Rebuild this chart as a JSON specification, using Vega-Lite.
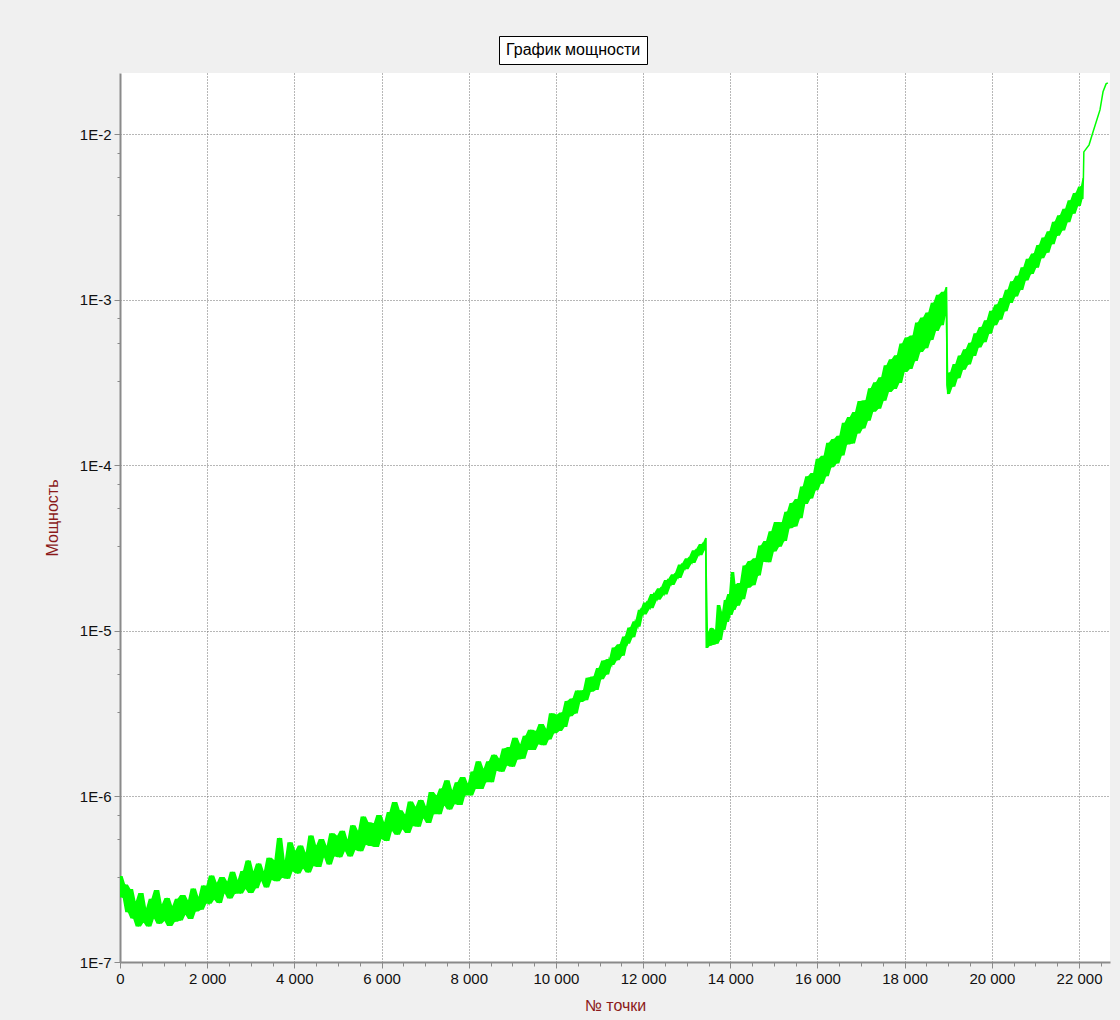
{
"$schema": "https://vega.github.io/schema/vega-lite/v6.json",
"width": 990, "height": 889,
"autosize": {"type": "none"},
"padding": {"left": 120, "top": 73, "right": 10, "bottom": 58},
"background": "#f0f0f0",
"view": {"fill": "white", "stroke": null},
"config": {"font": "Liberation Sans"},
"data": {"values": [
{"x":0,"y":3.31e-7},{"x":60,"y":2.45e-7},{"x":120,"y":2.94e-7},{"x":180,"y":2.0e-7},{"x":240,"y":2.76e-7},{"x":300,"y":1.83e-7},{"x":360,"y":2.32e-7},{"x":420,"y":1.64e-7},{"x":480,"y":2.61e-7},{"x":540,"y":1.73e-7},{"x":600,"y":2.12e-7},{"x":660,"y":1.64e-7},{"x":720,"y":2.41e-7},{"x":780,"y":1.83e-7},{"x":840,"y":2.72e-7},{"x":900,"y":1.70e-7},{"x":960,"y":2.23e-7},{"x":1020,"y":1.77e-7},{"x":1080,"y":2.44e-7},{"x":1140,"y":1.65e-7},{"x":1200,"y":2.18e-7},{"x":1260,"y":1.75e-7},{"x":1320,"y":2.41e-7},{"x":1380,"y":1.78e-7},{"x":1440,"y":2.54e-7},{"x":1500,"y":1.93e-7},{"x":1560,"y":2.36e-7},{"x":1620,"y":1.82e-7},{"x":1680,"y":2.78e-7},{"x":1740,"y":2.02e-7},{"x":1800,"y":2.47e-7},{"x":1860,"y":2.07e-7},{"x":1920,"y":2.90e-7},{"x":1980,"y":2.37e-7},
{"x":2040,"y":2.25e-7},{"x":2100,"y":3.33e-7},{"x":2160,"y":2.38e-7},{"x":2220,"y":3.01e-7},{"x":2280,"y":2.27e-7},{"x":2340,"y":3.26e-7},{"x":2400,"y":2.60e-7},{"x":2460,"y":3.06e-7},{"x":2520,"y":2.42e-7},{"x":2580,"y":3.51e-7},{"x":2640,"y":2.58e-7},{"x":2700,"y":3.13e-7},{"x":2760,"y":2.59e-7},{"x":2820,"y":3.55e-7},{"x":2880,"y":2.76e-7},{"x":2940,"y":4.11e-7},{"x":3000,"y":2.61e-7},{"x":3060,"y":3.54e-7},{"x":3120,"y":2.79e-7},{"x":3180,"y":3.94e-7},{"x":3240,"y":3.09e-7},{"x":3300,"y":3.53e-7},{"x":3360,"y":2.82e-7},{"x":3420,"y":4.26e-7},{"x":3480,"y":3.13e-7},{"x":3540,"y":4.12e-7},{"x":3600,"y":3.08e-7},{"x":3660,"y":5.62e-7},{"x":3720,"y":3.23e-7},{"x":3780,"y":4.10e-7},{"x":3840,"y":3.18e-7},{"x":3900,"y":5.29e-7},{"x":3960,"y":3.54e-7},
{"x":4020,"y":4.70e-7},{"x":4080,"y":3.42e-7},{"x":4140,"y":5.05e-7},{"x":4200,"y":3.67e-7},{"x":4260,"y":4.57e-7},{"x":4320,"y":3.47e-7},{"x":4380,"y":5.81e-7},{"x":4440,"y":3.80e-7},{"x":4500,"y":5.06e-7},{"x":4560,"y":3.75e-7},{"x":4620,"y":5.53e-7},{"x":4680,"y":4.29e-7},{"x":4740,"y":5.03e-7},{"x":4800,"y":3.88e-7},{"x":4860,"y":5.99e-7},{"x":4920,"y":4.35e-7},{"x":4980,"y":5.79e-7},{"x":5040,"y":4.29e-7},{"x":5100,"y":6.20e-7},{"x":5160,"y":4.68e-7},{"x":5220,"y":5.50e-7},{"x":5280,"y":4.34e-7},{"x":5340,"y":6.71e-7},{"x":5400,"y":4.75e-7},{"x":5460,"y":6.20e-7},{"x":5520,"y":4.67e-7},{"x":5580,"y":7.57e-7},{"x":5640,"y":5.11e-7},{"x":5700,"y":6.99e-7},{"x":5760,"y":5.03e-7},{"x":5820,"y":6.89e-7},{"x":5880,"y":4.95e-7},{"x":5940,"y":7.73e-7},
{"x":6000,"y":5.55e-7},{"x":6060,"y":6.99e-7},{"x":6120,"y":5.38e-7},{"x":6180,"y":8.06e-7},{"x":6240,"y":6.19e-7},{"x":6300,"y":9.25e-7},{"x":6360,"y":5.87e-7},{"x":6420,"y":8.26e-7},{"x":6480,"y":6.34e-7},{"x":6540,"y":7.79e-7},{"x":6600,"y":6.02e-7},{"x":6660,"y":9.33e-7},{"x":6720,"y":6.63e-7},{"x":6780,"y":8.67e-7},{"x":6840,"y":6.57e-7},{"x":6900,"y":9.53e-7},{"x":6960,"y":7.39e-7},{"x":7020,"y":8.69e-7},{"x":7080,"y":6.92e-7},{"x":7140,"y":1.063e-6},{"x":7200,"y":7.81e-7},{"x":7260,"y":1.015e-6},{"x":7320,"y":7.82e-7},{"x":7380,"y":1.118e-6},{"x":7440,"y":8.81e-7},{"x":7500,"y":1.253e-6},{"x":7560,"y":8.33e-7},{"x":7620,"y":1.090e-6},{"x":7680,"y":9.0e-7},{"x":7740,"y":1.22e-6},{"x":7800,"y":8.88e-7},{"x":7860,"y":1.31e-6},{"x":7920,"y":1.015e-6},{"x":7980,"y":1.196e-6},
{"x":8040,"y":1.015e-6},{"x":8100,"y":1.416e-6},{"x":8160,"y":1.11e-6},{"x":8220,"y":1.63e-6},{"x":8280,"y":1.11e-6},{"x":8340,"y":1.47e-6},{"x":8400,"y":1.22e-6},{"x":8460,"y":1.63e-6},{"x":8520,"y":1.22e-6},{"x":8580,"y":1.79e-6},{"x":8640,"y":1.43e-6},{"x":8700,"y":1.69e-6},{"x":8760,"y":1.41e-6},{"x":8820,"y":1.95e-6},{"x":8880,"y":1.54e-6},{"x":8940,"y":1.99e-6},{"x":9000,"y":1.51e-6},{"x":9060,"y":2.26e-6},{"x":9120,"y":1.67e-6},{"x":9180,"y":2.07e-6},{"x":9240,"y":1.69e-6},{"x":9300,"y":2.33e-6},{"x":9360,"y":1.91e-6},{"x":9420,"y":2.53e-6},{"x":9480,"y":1.91e-6},{"x":9540,"y":2.49e-6},{"x":9600,"y":2.07e-6},{"x":9660,"y":2.74e-6},{"x":9720,"y":2.04e-6},{"x":9780,"y":2.56e-6},{"x":9840,"y":2.21e-6},{"x":9900,"y":3.18e-6},{"x":9960,"y":2.41e-6},
{"x":10020,"y":3.12e-6},{"x":10080,"y":2.49e-6},{"x":10140,"y":3.22e-6},{"x":10200,"y":2.63e-6},{"x":10260,"y":3.78e-6},{"x":10320,"y":3.05e-6},{"x":10380,"y":3.91e-6},{"x":10440,"y":3.17e-6},{"x":10500,"y":4.37e-6},{"x":10560,"y":3.72e-6},{"x":10620,"y":4.39e-6},{"x":10680,"y":3.82e-6},{"x":10740,"y":5.22e-6},{"x":10800,"y":4.29e-6},{"x":10860,"y":5.31e-6},{"x":10920,"y":4.40e-6},{"x":10980,"y":5.98e-6},{"x":11040,"y":5.11e-6},{"x":11100,"y":6.63e-6},{"x":11160,"y":5.45e-6},{"x":11220,"y":6.76e-6},{"x":11280,"y":6.22e-6},{"x":11340,"y":7.94e-6},{"x":11400,"y":6.65e-6},{"x":11460,"y":8.32e-6},{"x":11520,"y":7.08e-6},{"x":11580,"y":9.26e-6},{"x":11640,"y":8.38e-6},{"x":11700,"y":1.051e-5},{"x":11760,"y":9.16e-6},{"x":11820,"y":1.144e-5},{"x":11880,"y":1.059e-5},{"x":11940,"y":1.343e-5},
{"x":12000,"y":1.256e-5},{"x":12080,"y":1.487e-5},{"x":12160,"y":1.371e-5},{"x":12240,"y":1.673e-5},{"x":12320,"y":1.546e-5},{"x":12400,"y":1.809e-5},{"x":12480,"y":1.662e-5},{"x":12560,"y":2.03e-5},{"x":12640,"y":1.897e-5},{"x":12720,"y":2.20e-5},{"x":12800,"y":2.09e-5},{"x":12880,"y":2.52e-5},{"x":12960,"y":2.36e-5},{"x":13040,"y":2.75e-5},{"x":13120,"y":2.57e-5},{"x":13200,"y":3.07e-5},{"x":13280,"y":2.87e-5},{"x":13360,"y":3.35e-5},{"x":13420,"y":3.09e-5},{"x":13440,"y":3.65e-5},
{"x":13450,"y":7.90e-6},{"x":13490,"y":9.86e-6},{"x":13530,"y":8.13e-6},{"x":13570,"y":1.043e-5},{"x":13610,"y":8.25e-6},{"x":13650,"y":1.014e-5},{"x":13690,"y":8.38e-6},{"x":13730,"y":1.436e-5},{"x":13770,"y":8.81e-6},{"x":13810,"y":1.30e-5},{"x":13850,"y":1.014e-5},{"x":13890,"y":1.54e-5},{"x":13930,"y":1.133e-5},{"x":13970,"y":1.673e-5},{"x":14010,"y":1.249e-5},{"x":14050,"y":2.27e-5},{"x":14090,"y":1.339e-5},
{"x":14120,"y":1.91e-5},{"x":14160,"y":1.42e-5},{"x":14220,"y":1.95e-5},{"x":14280,"y":1.555e-5},{"x":14340,"y":2.49e-5},{"x":14400,"y":1.823e-5},{"x":14460,"y":2.65e-5},{"x":14520,"y":1.89e-5},{"x":14580,"y":2.75e-5},{"x":14640,"y":2.16e-5},{"x":14700,"y":3.28e-5},{"x":14760,"y":2.62e-5},{"x":14820,"y":3.49e-5},{"x":14880,"y":2.60e-5},{"x":14940,"y":4.00e-5},{"x":15000,"y":3.02e-5},{"x":15060,"y":4.55e-5},{"x":15120,"y":3.23e-5},{"x":15180,"y":4.53e-5},{"x":15240,"y":3.49e-5},{"x":15300,"y":5.26e-5},{"x":15360,"y":4.17e-5},{"x":15420,"y":5.94e-5},{"x":15480,"y":4.27e-5},{"x":15540,"y":6.27e-5},{"x":15600,"y":4.80e-5},{"x":15660,"y":7.46e-5},{"x":15720,"y":5.85e-5},{"x":15780,"y":8.61e-5},{"x":15840,"y":6.31e-5},{"x":15900,"y":9.0e-5},{"x":15960,"y":7.08e-5},
{"x":16020,"y":1.098e-4},{"x":16080,"y":7.74e-5},{"x":16140,"y":1.143e-4},{"x":16200,"y":8.60e-5},{"x":16260,"y":1.37e-4},{"x":16320,"y":9.74e-5},{"x":16380,"y":1.446e-4},{"x":16440,"y":1.028e-4},{"x":16500,"y":1.51e-4},{"x":16560,"y":1.149e-4},{"x":16620,"y":1.81e-4},{"x":16680,"y":1.338e-4},{"x":16740,"y":1.96e-4},{"x":16800,"y":1.356e-4},{"x":16860,"y":2.10e-4},{"x":16920,"y":1.559e-4},{"x":16980,"y":2.45e-4},{"x":17040,"y":1.67e-4},{"x":17100,"y":2.48e-4},{"x":17160,"y":1.865e-4},{"x":17220,"y":2.93e-4},{"x":17280,"y":2.11e-4},{"x":17340,"y":3.18e-4},{"x":17400,"y":2.20e-4},{"x":17460,"y":3.41e-4},{"x":17520,"y":2.46e-4},{"x":17580,"y":4.03e-4},{"x":17640,"y":2.78e-4},{"x":17700,"y":4.38e-4},{"x":17760,"y":2.90e-4},{"x":17820,"y":4.63e-4},{"x":17880,"y":3.15e-4},{"x":17940,"y":5.46e-4},{"x":18000,"y":3.67e-4},{"x":18060,"y":5.94e-4},{"x":18120,"y":3.83e-4},{"x":18180,"y":6.10e-4},{"x":18240,"y":4.27e-4},{"x":18300,"y":7.30e-4},{"x":18360,"y":4.84e-4},{"x":18420,"y":7.83e-4},{"x":18480,"y":5.11e-4},{"x":18540,"y":8.39e-4},{"x":18600,"y":5.72e-4},{"x":18660,"y":9.63e-4},{"x":18720,"y":6.49e-4},{"x":18780,"y":1.075e-3},{"x":18840,"y":7.03e-4},{"x":18900,"y":1.121e-3},{"x":18940,"y":8.06e-4},{"x":18960,"y":1.198e-3},
{"x":18970,"y":3.07e-4},{"x":19000,"y":2.70e-4},{"x":19040,"y":3.65e-4},{"x":19100,"y":2.99e-4},{"x":19160,"y":4.10e-4},{"x":19220,"y":3.36e-4},{"x":19280,"y":4.62e-4},{"x":19340,"y":3.78e-4},{"x":19400,"y":5.04e-4},{"x":19460,"y":4.07e-4},{"x":19520,"y":5.52e-4},{"x":19580,"y":4.59e-4},{"x":19640,"y":6.29e-4},{"x":19700,"y":5.16e-4},{"x":19760,"y":6.87e-4},{"x":19820,"y":5.56e-4},{"x":19880,"y":7.53e-4},{"x":19940,"y":6.25e-4},{"x":20000,"y":8.59e-4},{"x":20060,"y":7.03e-4},{"x":20120,"y":9.39e-4},{"x":20180,"y":7.60e-4},{"x":20240,"y":1.027e-3},{"x":20300,"y":8.53e-4},{"x":20360,"y":1.154e-3},{"x":20420,"y":9.59e-4},{"x":20480,"y":1.299e-3},{"x":20540,"y":1.050e-3},{"x":20600,"y":1.400e-3},{"x":20660,"y":1.148e-3},{"x":20720,"y":1.574e-3},{"x":20780,"y":1.310e-3},{"x":20840,"y":1.771e-3},{"x":20900,"y":1.432e-3},{"x":20960,"y":1.910e-3},{"x":21020,"y":1.565e-3},{"x":21080,"y":2.149e-3},{"x":21140,"y":1.786e-3},{"x":21200,"y":2.38e-3},{"x":21260,"y":1.926e-3},{"x":21320,"y":2.60e-3},{"x":21380,"y":2.17e-3},{"x":21440,"y":2.97e-3},{"x":21500,"y":2.44e-3},{"x":21560,"y":3.25e-3},{"x":21620,"y":2.63e-3},{"x":21680,"y":3.55e-3},{"x":21740,"y":2.95e-3},{"x":21800,"y":4.00e-3},{"x":21860,"y":3.32e-3},{"x":21920,"y":4.43e-3},{"x":21980,"y":3.69e-3},{"x":22040,"y":4.85e-3},{"x":22080,"y":4.07e-3},{"x":22100,"y":5.46e-3},
{"x":22110,"y":7.84e-3},{"x":22230,"y":8.65e-3},{"x":22320,"y":1.035e-2},{"x":22480,"y":1.406e-2},{"x":22550,"y":1.81e-2},{"x":22620,"y":2.02e-2},{"x":22660,"y":2.05e-2}
]},
"encoding": {
  "x": {"field": "x", "type": "quantitative",
    "scale": {"domain": [0, 22710], "nice": false, "zero": false},
    "axis": {"title": "№ точки",
      "values": [0,500,1000,1500,2000,2500,3000,3500,4000,4500,5000,5500,6000,6500,7000,7500,8000,8500,9000,9500,10000,10500,11000,11500,12000,12500,13000,13500,14000,14500,15000,15500,16000,16500,17000,17500,18000,18500,19000,19500,20000,20500,21000,21500,22000,22500],
      "labelExpr": "datum.value % 2000 === 0 ? replace(format(datum.value, ','), ',', ' ') : ''",
      "labelOverlap": false, "labelFlush": false,
      "grid": true,
      "gridOpacity": {"condition": {"test": "datum.value % 2000 === 0 && datum.value > 0", "value": 1}, "value": 0},
      "gridColor": "#6e6e6e", "gridDash": [1, 2], "gridWidth": 1,
      "tickSize": {"condition": {"test": "datum.value % 2000 === 0", "value": 6}, "value": 4},
      "tickColor": "#8a8a8a", "domainColor": "#8a8a8a", "domainWidth": 2,
      "labelFontSize": 15, "labelColor": "#111111", "labelPadding": 3,
      "titleFontSize": 16, "titleFontWeight": "normal", "titleColor": "#8b1a1a", "titlePadding": 11}}
},
"layer": [
  {
    "transform": [
      {"filter": "datum.x <= 22100"},
      {"window": [{"op": "min", "field": "y", "as": "lo"}, {"op": "max", "field": "y", "as": "hi"}], "frame": [-1, 1], "sort": [{"field": "x"}]}],
    "mark": {"type": "area", "color": "#00ff00", "clip": true},
    "encoding": {
      "y": {"field": "lo", "type": "quantitative", "scale": {"type": "log", "domain": [1e-7, 0.0235], "nice": false},
        "axis": {"title": "Мощность",
          "values": [1e-7,3.25e-7,5.5e-7,7.75e-7,1e-6,3.25e-6,5.5e-6,7.75e-6,1e-5,3.25e-5,5.5e-5,7.75e-5,1e-4,3.25e-4,5.5e-4,7.75e-4,1e-3,3.25e-3,5.5e-3,7.75e-3,1e-2],
          "labelExpr": "abs(log(datum.value)/LN10 - round(log(datum.value)/LN10)) < 0.01 ? '1E' + round(log(datum.value)/LN10) : ''",
          "labelOverlap": false,
          "grid": true,
          "gridOpacity": {"condition": {"test": "abs(log(datum.value)/LN10 - round(log(datum.value)/LN10)) < 0.01 && datum.value > 2e-7", "value": 1}, "value": 0},
          "gridColor": "#6e6e6e", "gridDash": [1, 2], "gridWidth": 1,
          "tickSize": {"condition": {"test": "abs(log(datum.value)/LN10 - round(log(datum.value)/LN10)) < 0.01", "value": 6}, "value": 3},
          "tickColor": "#8a8a8a", "domainColor": "#8a8a8a", "domainWidth": 2,
          "labelFontSize": 15, "labelColor": "#111111", "labelPadding": 3,
          "titleFontSize": 16, "titleFontWeight": "normal", "titleColor": "#8b1a1a", "titlePadding": 19}},
      "y2": {"field": "hi"}
    }
  },
  {
    "mark": {"type": "line", "strokeWidth": 1.5, "clip": true},
    "encoding": {
      "y": {"field": "y", "type": "quantitative",
        "scale": {"type": "log", "domain": [1e-7, 0.0235], "nice": false},
        "axis": {"title": "Мощность",
          "values": [1e-7,3.25e-7,5.5e-7,7.75e-7,1e-6,3.25e-6,5.5e-6,7.75e-6,1e-5,3.25e-5,5.5e-5,7.75e-5,1e-4,3.25e-4,5.5e-4,7.75e-4,1e-3,3.25e-3,5.5e-3,7.75e-3,1e-2],
          "labelExpr": "abs(log(datum.value)/LN10 - round(log(datum.value)/LN10)) < 0.01 ? '1E' + round(log(datum.value)/LN10) : ''",
          "labelOverlap": false,
          "grid": true,
          "gridOpacity": {"condition": {"test": "abs(log(datum.value)/LN10 - round(log(datum.value)/LN10)) < 0.01 && datum.value > 2e-7", "value": 1}, "value": 0},
          "gridColor": "#6e6e6e", "gridDash": [1, 2], "gridWidth": 1,
          "tickSize": {"condition": {"test": "abs(log(datum.value)/LN10 - round(log(datum.value)/LN10)) < 0.01", "value": 6}, "value": 3},
          "tickColor": "#8a8a8a", "domainColor": "#8a8a8a", "domainWidth": 2,
          "labelFontSize": 15, "labelColor": "#111111", "labelPadding": 3,
          "titleFontSize": 16, "titleFontWeight": "normal", "titleColor": "#8b1a1a", "titlePadding": 19}},
      "color": {"datum": "График мощности", "type": "nominal",
        "scale": {"range": ["#00ff00"]},
        "legend": {"orient": "none", "legendX": 379, "legendY": -37, "title": null,
          "symbolType": "circle", "symbolSize": 0, "symbolStrokeWidth": 0, "symbolOpacity": 0, "labelOffset": -15,
          "labelFontSize": 16, "labelColor": "#000000", "labelLimit": 400,
          "strokeColor": "#000000", "fillColor": "#ffffff", "padding": 6}}
    }
  }
]
}
